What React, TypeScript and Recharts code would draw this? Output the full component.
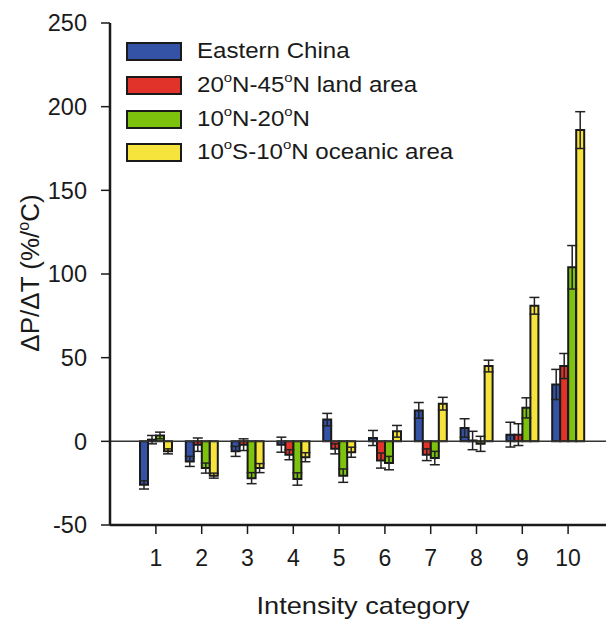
import React from 'react';
import {
  BarChart,
  Bar,
  XAxis,
  YAxis,
  ErrorBar,
  ReferenceLine,
} from 'recharts';

const categories = ['1', '2', '3', '4', '5', '6', '7', '8', '9', '10'];

// Eastern China
const eastChina = [-26, -12, -6, -2, 13, 2, 18.5, 8, 4, 34];
const eastChinaErr = [2.5, 3, 3, 4.5, 3.7, 4.5, 4.7, 5.5, 7.4, 9];
// 20N-45N land area
const landArea = [1, -2, -2, -8, -4.5, -11.5, -8, 0.5, 4, 45];
const landAreaErr = [2.5, 4, 3.5, 3, 3, 4.5, 3.5, 5.5, 6.5, 7.5];
// 10N-20N
const tropicN = [3.5, -16, -22, -22.5, -20.5, -13, -10, -1.5, 20, 104];
const tropicNErr = [2, 3, 3.3, 3.7, 4, 4, 4, 4.5, 6, 13];
// 10S-10N oceanic area
const ocean = [-6, -20.5, -16, -9.5, -6.5, 6, 22.5, 45, 81, 186];
const oceanErr = [1.5, 1.5, 2.7, 2.7, 3, 3.5, 3.8, 3.5, 5, 11];

const yTicks = [-50, 0, 50, 100, 150, 200, 250];

const data = categories.map((cat, i) => ({
  cat,
  ec: eastChina[i],
  ecErr: eastChinaErr[i],
  land: landArea[i],
  landErr: landAreaErr[i],
  trop: tropicN[i],
  tropErr: tropicNErr[i],
  ocean: ocean[i],
  oceanErr: oceanErr[i],
}));

const FONT = '"Liberation Sans", Arial, Helvetica, sans-serif';
const INK = '#1a1a1a';

const series = [
  { key: 'ec', err: 'ecErr', color: '#3553a6' },
  { key: 'land', err: 'landErr', color: '#e2332a' },
  { key: 'trop', err: 'tropErr', color: '#7dc20c' },
  { key: 'ocean', err: 'oceanErr', color: '#f6e33c' },
];

const sup = (t: string) => <sup style={{ fontSize: '0.62em', verticalAlign: '0.75em', lineHeight: 0 }}>{t}</sup>;

const legendRows = [
  { color: series[0].color, label: <>Eastern China</> },
  { color: series[1].color, label: <>20{sup('o')}N-45{sup('o')}N land area</> },
  { color: series[2].color, label: <>10{sup('o')}N-20{sup('o')}N</> },
  { color: series[3].color, label: <>10{sup('o')}S-10{sup('o')}N oceanic area</> },
];

function ChartLegend() {
  return (
    <div style={{ position: 'absolute', left: 126, top: 35, fontFamily: FONT, color: INK }}>
      {legendRows.map((r, i) => (
        <div key={i} style={{ display: 'flex', alignItems: 'center', height: 33.7 }}>
          <div
            style={{
              width: 52,
              height: 15,
              background: r.color,
              border: `2px solid ${INK}`,
              marginRight: 15,
            }}
          />
          <div style={{ fontSize: 21.5, whiteSpace: 'nowrap', transform: 'scaleX(1.12)', transformOrigin: 'left center' }}>
            {r.label}
          </div>
        </div>
      ))}
    </div>
  );
}

export default function App() {
  return (
    <div style={{ position: 'absolute', left: 0, top: 0, width: 606, height: 621, background: '#fff' }}>
      <BarChart
        width={606}
        height={621}
        data={data}
        margin={{ top: 23, right: 0, left: 0, bottom: 0 }}
        barGap={0}
        barSize={8}
      >
        <XAxis
          dataKey="cat"
          height={96}
          padding={{ left: 23, right: 15 }}
          axisLine={{ stroke: INK, strokeWidth: 2.5 }}
          tickLine={{ stroke: INK, strokeWidth: 1.5 }}
          tickSize={9}
          tickMargin={16}
          tick={{ fill: INK, fontSize: 23, fontFamily: FONT }}
          label={() => (
            <text x={363} y={614} textAnchor="middle" fontSize={24} fontFamily={FONT} fill={INK} textLength={213} lengthAdjust="spacingAndGlyphs">
              Intensity category
            </text>
          )}
        />
        <YAxis
          width={110}
          domain={[-50, 250]}
          ticks={yTicks}
          allowDataOverflow
          axisLine={{ stroke: INK, strokeWidth: 2.5 }}
          tickLine={{ stroke: INK, strokeWidth: 1.5 }}
          tickSize={9}
          tickMargin={14}
          tick={{ fill: INK, fontSize: 23.5, fontFamily: FONT }}
          label={() => (
            <text
              transform="translate(39, 273) rotate(-90)"
              textAnchor="middle"
              fontSize={26}
              fontFamily={FONT}
              fill={INK}
            >
              ΔP/ΔT (%/<tspan fontSize={16} dy={-10}>o</tspan><tspan dy={10}>C)</tspan>
            </text>
          )}
        />
        <ReferenceLine y={0} stroke="#333" strokeWidth={1.5} />
        {series.map((s) => (
          <Bar
            key={s.key}
            dataKey={s.key}
            fill={s.color}
            stroke={INK}
            strokeWidth={2}
            isAnimationActive={false}
          >
            <ErrorBar dataKey={s.err} width={5} stroke="#222" strokeWidth={1.5} direction="y" isAnimationActive={false} />
          </Bar>
        ))}
      </BarChart>
      <ChartLegend />
    </div>
  );
}
